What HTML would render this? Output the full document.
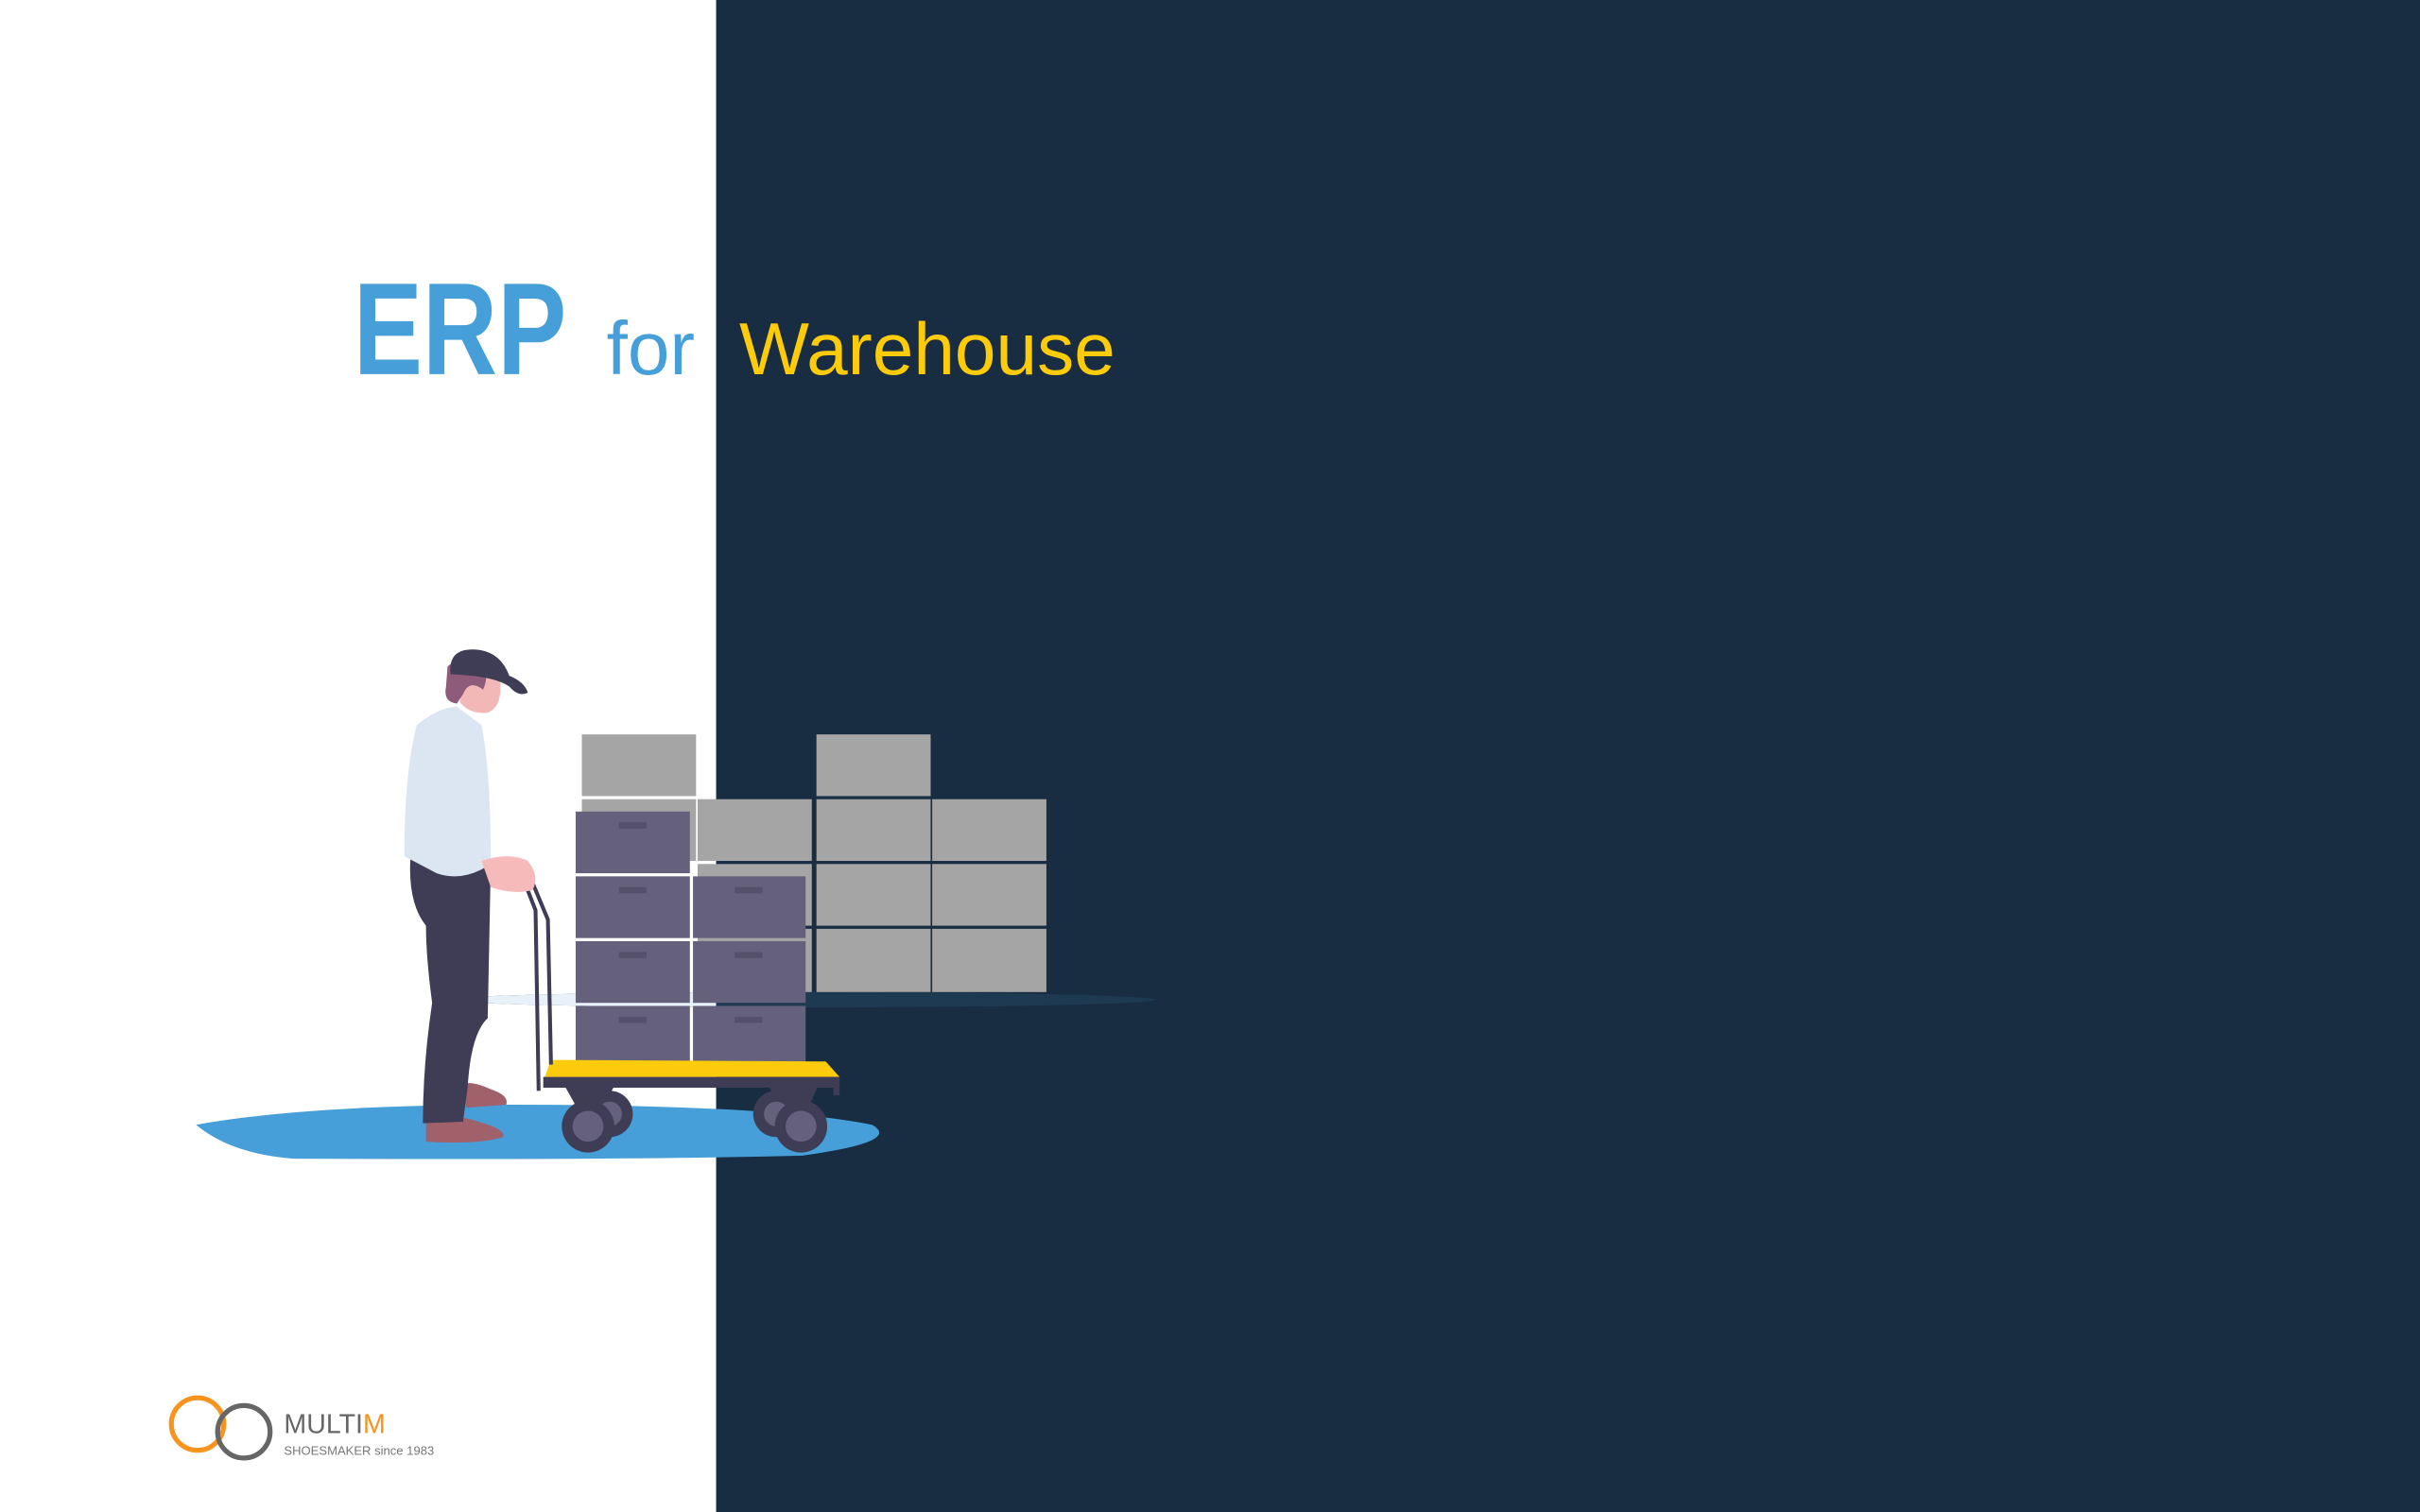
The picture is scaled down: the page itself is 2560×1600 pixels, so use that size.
<!DOCTYPE html>
<html><head><meta charset="utf-8"><style>
html,body{margin:0;padding:0;background:#fff;}
svg{display:block;}
</style></head><body>
<svg width="2560" height="1600" viewBox="0 0 1568 980" xmlns="http://www.w3.org/2000/svg">
<rect x="0" y="0" width="1568" height="980" fill="#ffffff"/>
<rect x="464" y="0" width="1104" height="980" fill="#182c42"/>
<!-- title -->
<text x="229" y="242.5" font-family="Liberation Sans, sans-serif" font-weight="bold" font-size="85" fill="#479fd9" transform="translate(229 0) scale(0.79 1) translate(-229 0)">ERP</text>
<text x="393" y="242.5" font-family="Liberation Sans, sans-serif" font-size="49" fill="#479fd9">for</text>
<text x="479" y="242.5" font-family="Liberation Sans, sans-serif" font-size="48" fill="#fccb0b">Warehouse</text>
<!-- floor -->
<path d="M127,729 Q200,716 330,716 Q500,716 565,729 Q585,740 520,749 Q400,752 190,751 Q150,748 127,729 Z" fill="#479fd9"/>
<!-- shadow -->
<ellipse cx="520" cy="648" rx="229" ry="5" fill="#1d3a52"/>
<clipPath id="wl"><rect x="0" y="0" width="464" height="980"/></clipPath>
<ellipse cx="520" cy="648" rx="229" ry="5" fill="#e8f0f8" clip-path="url(#wl)"/>
<!-- gray boxes -->
<g fill="#a5a5a5">
<rect x="377" y="476" width="74" height="40"/>
<rect x="529" y="476" width="74" height="40"/>
<rect x="377" y="518" width="74" height="40"/>
<rect x="452" y="518" width="74" height="40"/>
<rect x="529" y="518" width="74" height="40"/>
<rect x="604" y="518" width="74" height="40"/>
<rect x="452" y="560" width="74" height="40"/>
<rect x="529" y="560" width="74" height="40"/>
<rect x="604" y="560" width="74" height="40"/>
<rect x="452" y="602" width="74" height="41"/>
<rect x="529" y="602" width="74" height="41"/>
<rect x="604" y="602" width="74" height="41"/>
</g>
<!-- purple boxes -->
<g fill="#65617d">
<rect x="373" y="526" width="74" height="40"/>
<rect x="373" y="568" width="74" height="40"/>
<rect x="449" y="568" width="73" height="40"/>
<rect x="373" y="610" width="74" height="40"/>
<rect x="449" y="610" width="73" height="40"/>
<rect x="373" y="652" width="74" height="40"/>
<rect x="449" y="652" width="73" height="40"/>
</g>
<g fill="#55516b">
<rect x="401" y="533" width="18" height="4"/>
<rect x="401" y="575" width="18" height="4"/>
<rect x="476" y="575" width="18" height="4"/>
<rect x="401" y="617" width="18" height="4"/>
<rect x="476" y="617" width="18" height="4"/>
<rect x="401" y="659" width="18" height="4"/>
<rect x="476" y="659" width="18" height="4"/>
</g>
<!-- cart -->
<polygon points="357,687 535,688 544,698 353,698" fill="#fccb0b"/>
<rect x="352" y="698" width="192" height="7" fill="#3f3d56"/>
<rect x="540" y="698" width="4" height="12" fill="#3f3d56"/>
<polygon points="366,704 398,704 388,722 376,722" fill="#3f3d56"/>
<polygon points="498,704 530,704 522,722 508,722" fill="#3f3d56"/>
<circle cx="395" cy="722" r="15" fill="#3f3d56"/>
<circle cx="395" cy="722" r="8" fill="#65617d"/>
<circle cx="503" cy="722" r="15" fill="#3f3d56"/>
<circle cx="503" cy="722" r="8" fill="#65617d"/>
<circle cx="381" cy="730" r="17" fill="#3f3d56"/>
<circle cx="381" cy="730" r="10" fill="#65617d"/>
<circle cx="519" cy="730" r="17" fill="#3f3d56"/>
<circle cx="519" cy="730" r="10" fill="#65617d"/>
<polyline points="340,572 347,590 349,707" fill="none" stroke="#3f3d56" stroke-width="2.5"/>
<polyline points="345,572 355,596 357,690" fill="none" stroke="#3f3d56" stroke-width="2.5"/>
<!-- person -->
<path d="M299,703 Q305,700 318,706 Q330,710 328,716 L302,718 Z" fill="#a0616a"/>
<path d="M276,727 Q290,720 310,727 Q328,732 326,737 Q310,742 276,740 Z" fill="#a0616a"/>
<path d="M266,555 L318,560 L316,660 Q305,670 303,705 L300,727 L274,728 Q274,690 280,650 Q276,620 276,600 Q264,585 266,555 Z" fill="#3f3d56"/>
<path d="M270,470 Q285,458 296,458 L312,470 Q318,500 318,560 Q300,572 283,566 L262,555 Q262,500 270,470 Z" fill="#dce6f2"/>
<path d="M312,558 Q330,552 342,558 Q350,568 345,577 Q332,580 318,575 Z" fill="#f6baba"/>
<path d="M299,437 Q312,434 324,440 Q326,458 316,462 Q304,463 298,455 Z" fill="#f2b8b8"/>
<path d="M290,432 Q296,426 310,433 Q318,436 313,447 Q304,440 300,450 L296,456 Q287,455 289,445 Z" fill="#8e5b7a"/>
<path d="M292,437 Q290,420 308,421 Q324,422 330,438 Q340,442 342,449 Q336,452 330,445 Q320,438 292,437 Z" fill="#3f3d56"/>
<!-- logo -->
<circle cx="128" cy="923" r="17" fill="none" stroke="#f7931e" stroke-width="3.2"/>
<circle cx="158" cy="928" r="17" fill="none" stroke="#666" stroke-width="3.2"/>
<text x="184" y="929" font-family="Liberation Sans, sans-serif" font-size="17.5" fill="#666">MULTI<tspan fill="#f7931e">M</tspan></text>
<text x="184" y="943" font-family="Liberation Sans, sans-serif" font-size="8" fill="#777">SHOESMAKER since 1983</text>
</svg>
</body></html>
